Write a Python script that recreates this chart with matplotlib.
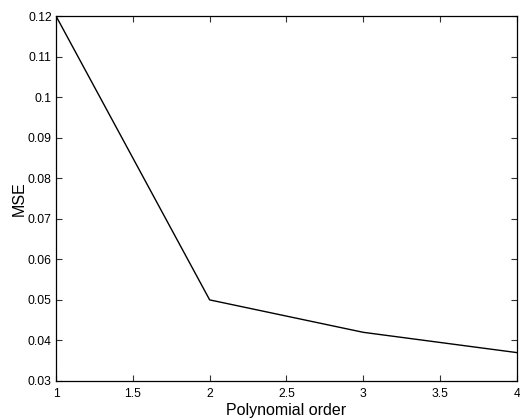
import matplotlib

matplotlib.use("Agg")
import matplotlib.pyplot as plt

# values
orders = [1, 2, 3, 4]
mse = [0.12, 0.05, 0.042, 0.037]

xticks = [1, 1.5, 2, 2.5, 3, 3.5, 4]
xtick_labels = ["1", "1.5", "2", "2.5", "3", "3.5", "4"]
yticks = [0.03, 0.04, 0.05, 0.06, 0.07, 0.08, 0.09, 0.1, 0.11, 0.12]
ytick_labels = ["0.03", "0.04", "0.05", "0.06", "0.07", "0.08", "0.09", "0.1", "0.11", "0.12"]

plt.rcParams.update({
    "font.family": ["Liberation Sans", "DejaVu Sans"],
    "xtick.direction": "in",
    "ytick.direction": "in",
    "xtick.top": True,
    "ytick.right": True,
})

fig = plt.figure(figsize=(5.2, 4.19), dpi=100)
ax = fig.add_axes([0.1077, 0.0907, 0.8865, 0.8711])

ax.plot(orders, mse, color="black", linewidth=1.0)

ax.set_xlim(1, 4)
ax.set_ylim(0.03, 0.12)
ax.set_xticks(xticks)
ax.set_xticklabels(xtick_labels)
ax.set_yticks(yticks)
ax.set_yticklabels(ytick_labels)
ax.tick_params(labelsize=8.7, length=4, width=0.8, color="#333333")
ax.tick_params(axis="x", pad=5)
ax.tick_params(axis="y", pad=3)
for spine in ax.spines.values():
    spine.set_linewidth(0.9)

ax.set_xlabel("Polynomial order", fontsize=11.5, labelpad=2)
ax.set_ylabel("MSE", fontsize=11.5, labelpad=1)

fig.savefig("out.png", dpi=100)
